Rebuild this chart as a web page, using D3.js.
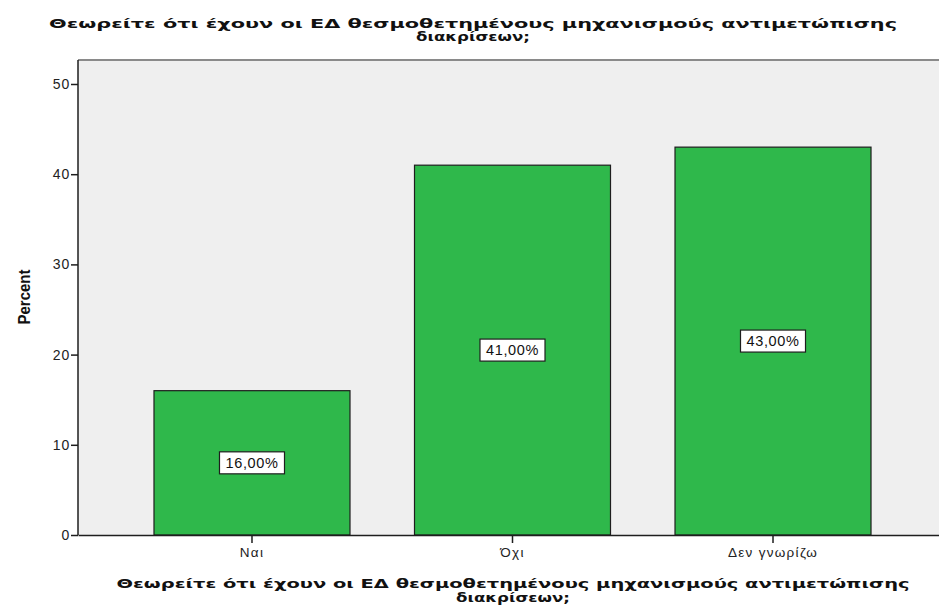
<!DOCTYPE html>
<html>
<head>
<meta charset="utf-8">
<script src="https://cdn.jsdelivr.net/npm/d3@7"></script>
<style>
  html, body { margin: 0; padding: 0; background: #ffffff; }
  svg { display: block; font-family: "Liberation Sans", Arial, sans-serif; }
</style>
</head>
<body>
<div id="chart"></div>
<script>
// chart data
const categories = ['Ναι', 'Όχι', 'Δεν γνωρίζω'];
const percents = [16, 41, 43];
const yTicks = [0, 10, 20, 30, 40, 50];
const titleLines = ['Θεωρείτε ότι έχουν οι ΕΔ θεσμοθετημένους μηχανισμούς αντιμετώπισης', 'διακρίσεων;'];
const yLabel = 'Percent';

const width = 939, height = 608;
const plot = { left: 78, right: 947, top: 60, bottom: 535 };

const svg = d3.select('#chart').append('svg')
    .attr('width', width)
    .attr('height', height);

// scales
const xScale = d3.scaleBand()
    .domain(categories)
    .range([plot.left, plot.right])
    .paddingInner(0.2476)
    .paddingOuter(0.2917);

const yScale = d3.scaleLinear()
    .domain([0, 52.66])
    .range([plot.bottom, plot.top]);

// plot background
svg.append('rect')
    .attr('x', plot.left)
    .attr('y', plot.top)
    .attr('width', plot.right - plot.left)
    .attr('height', plot.bottom - plot.top)
    .attr('fill', '#efefef');

svg.append('line')
    .attr('x1', plot.left).attr('x2', plot.right)
    .attr('y1', plot.top).attr('y2', plot.top)
    .attr('stroke', '#8a8a8a')
    .attr('stroke-width', 2);

// bars
svg.append('g').attr('class', 'bars')
  .selectAll('rect')
  .data(percents)
  .join('rect')
    .attr('x', (d, i) => xScale(categories[i]))
    .attr('y', d => yScale(d))
    .attr('width', xScale.bandwidth())
    .attr('height', d => yScale(0) - yScale(d))
    .attr('fill', '#2fb84b')
    .attr('stroke', '#1e1e1e')
    .attr('stroke-width', 1.2);

// axes
const yAxis = d3.axisLeft(yScale).tickValues(yTicks).tickSize(7).tickSizeOuter(0).tickPadding(1);
const yG = svg.append('g')
    .attr('transform', `translate(${plot.left},0)`)
    .call(yAxis);
yG.select('.domain').attr('stroke', '#1e1e1e').attr('stroke-width', 1.5)
    .attr('d', `M0,${plot.bottom}V${plot.top}`);
yG.selectAll('.tick line').attr('stroke', '#1e1e1e').attr('stroke-width', 1.5);
yG.selectAll('.tick text')
    .attr('font-size', 14)
    .attr('letter-spacing', 0.8)
    .attr('fill', '#222')
    .attr('font-family', '"Liberation Sans", Arial, sans-serif');

const xAxis = d3.axisBottom(xScale).tickSize(8).tickSizeOuter(0).tickPadding(4);
const xG = svg.append('g')
    .attr('transform', `translate(0,${plot.bottom})`)
    .call(xAxis);
xG.select('.domain').attr('stroke', '#1e1e1e').attr('stroke-width', 1.5);
xG.selectAll('.tick line').attr('stroke', '#1e1e1e').attr('stroke-width', 1.5);
xG.selectAll('.tick text')
    .attr('font-size', 13.5)
    .attr('letter-spacing', 1.3)
    .attr('fill', '#222')
    .attr('font-family', '"Liberation Sans", Arial, sans-serif');

// value labels
const fmt = d => d3.format('.2f')(d).replace('.', ',') + '%';
const labels = svg.append('g').attr('class', 'labels')
  .selectAll('g')
  .data(percents)
  .join('g')
    .attr('transform', (d, i) =>
      `translate(${xScale(categories[i]) + xScale.bandwidth() / 2},${yScale(d / 2)})`);

labels.append('rect')
    .attr('x', -32.5).attr('y', -11)
    .attr('width', 65).attr('height', 22)
    .attr('fill', '#ffffff')
    .attr('stroke', '#1e1e1e')
    .attr('stroke-width', 1.2);

labels.append('text')
    .attr('text-anchor', 'middle')
    .attr('dy', '0.36em')
    .attr('font-size', 14.5)
    .attr('letter-spacing', 0.6)
    .attr('fill', '#111')
    .text(d => fmt(d));

// y label
svg.append('text')
    .attr('transform', `translate(30,297) rotate(-90)`)
    .attr('text-anchor', 'middle')
    .attr('font-size', 16)
    .attr('font-weight', 'bold')
    .attr('textLength', 55)
    .attr('lengthAdjust', 'spacingAndGlyphs')
    .attr('fill', '#111')
    .text(yLabel);

// wide bold two-line text, used for chart title and x axis title
function wideTitle(cx, y1, y2, size, len1, len2) {
  const g = svg.append('g');
  [[y1, len1, titleLines[0]], [y2, len2, titleLines[1]]].forEach(([y, len, txt]) => {
    g.append('text')
        .attr('x', cx).attr('y', y)
        .attr('text-anchor', 'middle')
        .attr('font-family', '"DejaVu Sans", Verdana, sans-serif')
        .attr('font-size', size)
        .attr('font-weight', 'bold')
        .attr('textLength', len)
        .attr('lengthAdjust', 'spacingAndGlyphs')
        .attr('fill', '#111')
        .text(txt);
  });
}

wideTitle(473, 28, 41, 13, 848, 114);
wideTitle(513, 588, 602, 12.5, 793, 114);
</script>
</body>
</html>
